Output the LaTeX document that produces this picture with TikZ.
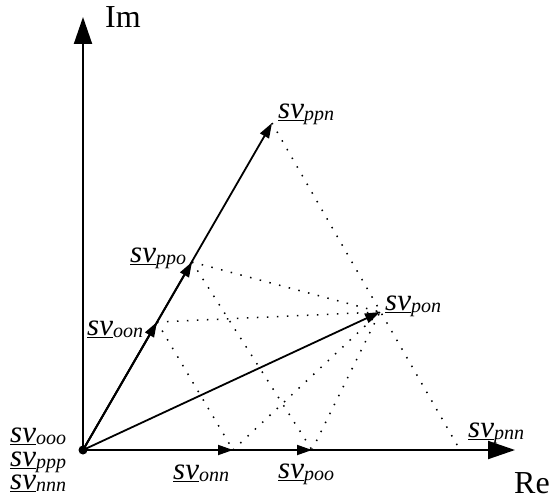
\documentclass[tikz,border=0pt]{standalone}
\usepackage{fontspec}
\setmainfont{Liberation Serif}
\usetikzlibrary{arrows.meta}
\newcommand{\svlab}[1]{\underline{\textit{sv}}\raisebox{-2.5pt}{\fontsize{20}{20}\selectfont\textit{#1}}}

\begin{document}
\begin{tikzpicture}[
  x=1pt,y=1pt,  axis/.style={line width=2pt,-{Triangle[length=27pt,width=18pt]}},  vec/.style={line width=1.8pt,-{Triangle[length=15pt,width=10pt]}},  aux/.style={line width=1.5pt,dash pattern=on 1.5pt off 8.5pt},  lbl/.style={inner sep=0pt,anchor=base west,font=\fontsize{31}{31}\selectfont},  big/.style={inner sep=0pt,anchor=base west,font=\fontsize{32}{32}\selectfont}
]
  \useasboundingbox (0,0) rectangle (551,499);
  \coordinate (O) at (83,49);
  \coordinate (re) at (515,49);
  \coordinate (im) at (83,482);
  \coordinate (onn) at (233,49);
  \coordinate (poo) at (312,49);
  \coordinate (pnn) at (460,49);
  \coordinate (oon) at (157,177);
  \coordinate (ppo) at (192,237);
  \coordinate (ppn) at (272,376);
  \coordinate (pon) at (380,187);
  \draw[aux] (oon) -- (pon);
  \draw[aux] (ppo) -- (pon);
  \draw[aux] (oon) -- (onn);
  \draw[aux] (onn) -- (pon);
  \draw[aux] (ppo) -- (poo);
  \draw[aux] (poo) -- (pon);
  \draw[aux] (ppn) -- (pnn);
  \draw[axis] (O) -- (re);
  \draw[axis] (O) -- (im);
  \draw[vec] (O) -- (onn);
  \draw[vec] (O) -- (poo);
  \draw[vec] (O) -- (oon);
  \draw[vec] (O) -- (ppo);
  \draw[vec] (O) -- (ppn);
  \draw[vec] (O) -- (pon);
  \fill (O) circle (4.5);
  \node[big] (tim) at (105,471) {Im};
  \node[big] (tre) at (514,6) {Re};
  \node[lbl] (looo) at (10,57) {\svlab{ooo}};
  \node[lbl] (lppp) at (10,33) {\svlab{ppp}};
  \node[lbl] (lnnn) at (10,10) {\svlab{nnn}};
  \node[lbl] (lonn) at (173,20) {\svlab{onn}};
  \node[lbl] (lpoo) at (278,21) {\svlab{poo}};
  \node[lbl] (lpnn) at (468,62) {\svlab{pnn}};
  \node[lbl] (lpon) at (385,189) {\svlab{pon}};
  \node[lbl] (lppn) at (278,381) {\svlab{ppn}};
  \node[lbl] (lppo) at (130,237) {\svlab{ppo}};
  \node[lbl] (loon) at (87,164) {\svlab{oon}};
\end{tikzpicture}
\end{document}
